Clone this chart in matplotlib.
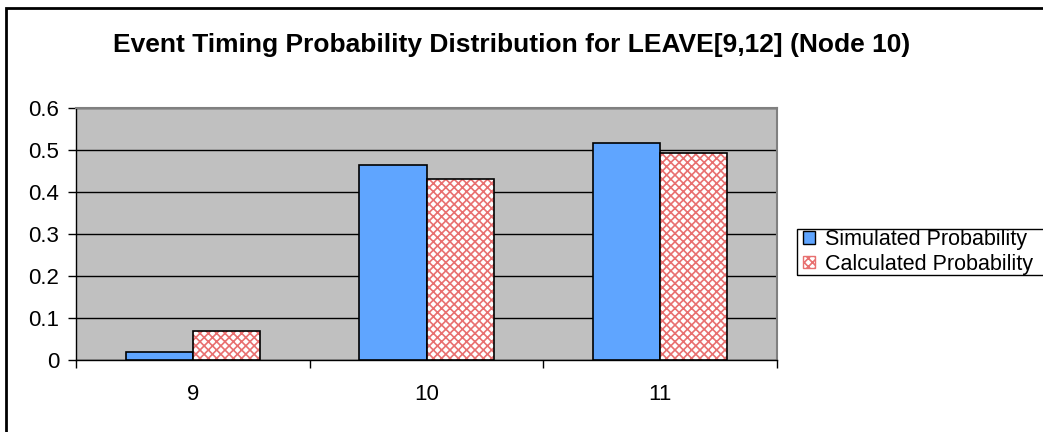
import matplotlib
matplotlib.use("Agg")
import matplotlib.pyplot as plt
from matplotlib.patches import Patch, Rectangle
import numpy as np

plt.rcParams["font.family"] = ["Liberation Sans", "DejaVu Sans"]
plt.rcParams["hatch.linewidth"] = 1.2

categories = ["9", "10", "11"]
simulated = [0.019, 0.464, 0.517]
calculated = [0.069, 0.431, 0.493]
series_names = ["Simulated Probability", "Calculated Probability"]

fig = plt.figure(figsize=(10.43, 4.32), dpi=100)
# outer chart border (right and bottom edges fall off the canvas)
fig.patches.append(Rectangle((6 / 1043, -0.05), 1.1, 1 - 8 / 432 + 0.05,
                             transform=fig.transFigure, fill=False,
                             edgecolor="black", linewidth=2))
# legend box, also running off the right edge
fig.patches.append(Rectangle((797 / 1043, 1 - 275 / 432), 0.3, 46 / 432,
                             transform=fig.transFigure, fill=False,
                             edgecolor="black", linewidth=1))
ax = fig.add_axes([76 / 1043, 72 / 432, 701 / 1043, 252 / 432])
ax.set_facecolor("#C0C0C0")

x = np.arange(len(categories))
w = 0.287
ax.bar(x - w / 2, simulated, w, color="#5FA5FF", edgecolor="black", linewidth=1.2, zorder=3)
# hatched bars: red pattern on white, then black outline on top
ax.bar(x + w / 2, calculated, w, color="white", edgecolor="#E87070", hatch="xxxx",
       linewidth=0, zorder=3)
ax.bar(x + w / 2, calculated, w, fill=False, edgecolor="black", linewidth=1.2, zorder=4)

ax.set_xlim(-0.5, 2.5)
ax.set_ylim(0, 0.6)
ax.set_yticks(np.arange(0, 0.61, 0.1))
ax.set_yticklabels(["0", "0.1", "0.2", "0.3", "0.4", "0.5", "0.6"], fontsize=16)
ax.yaxis.grid(True, color="black", linewidth=1, zorder=1)
ax.set_axisbelow(True)

ax.set_xticks(x)
ax.set_xticklabels(categories, fontsize=16)
ax.tick_params(axis="x", length=0, pad=17)
ax.set_xticks([-0.5, 0.5, 1.5, 2.5], minor=True)
ax.tick_params(axis="x", which="minor", length=6, width=1, direction="out")
ax.tick_params(axis="y", length=6, width=1, direction="out", pad=6)

for s in ["top", "right"]:
    ax.spines[s].set_color("#808080")
    ax.spines[s].set_linewidth(1.5)
ax.spines["left"].set_linewidth(1)
ax.spines["bottom"].set_linewidth(1)

fig.text(512 / 1043, 1 - 45 / 432,
         "Event Timing Probability Distribution for LEAVE[9,12] (Node 10)",
         ha="center", va="center", fontsize=19, fontweight="bold")

handles = [Patch(facecolor="#5FA5FF", edgecolor="black"),
           Patch(facecolor="white", edgecolor="#E87070", hatch="xxxx")]
leg = fig.legend(handles, series_names, loc="center left",
                 bbox_to_anchor=(803 / 1043, 1 - 252 / 432),
                 fontsize=15.5, frameon=False,
                 handlelength=0.55, handleheight=0.55, handletextpad=0.45,
                 borderpad=0, labelspacing=0.15, borderaxespad=0)

fig.savefig("out.png", dpi=100)
